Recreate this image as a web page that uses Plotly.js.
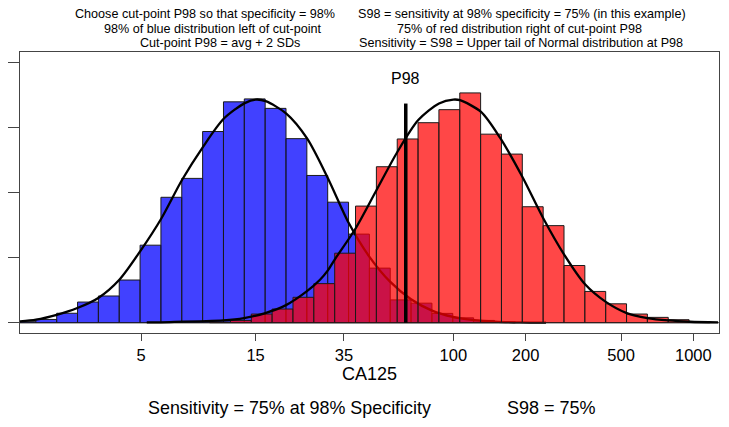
<!DOCTYPE html>
<html>
<head>
<meta charset="utf-8">
<script src="https://cdn.plot.ly/plotly-3.0.1.min.js"></script>
<style>
  html, body { margin: 0; padding: 0; background: #ffffff; }
  #chart { width: 729px; height: 427px; }
</style>
</head>
<body>
<div id="chart"></div>
<script>
// ---- data (x in natural-log units of CA125) ----
const binWidth = 0.2;

const blueBinStart = [0.4, 0.6, 0.8, 1.0, 1.2, 1.4, 1.6, 1.8, 2.0, 2.2, 2.4, 2.6,
                      2.8, 3.0, 3.2, 3.4, 3.6, 3.8, 4.0, 4.2, 4.4, 4.6, 4.8, 5.0];
const blueHeights  = [0.0015, 0.005, 0.0145, 0.0317, 0.041, 0.0655, 0.119, 0.1925, 0.2215, 0.2935, 0.339, 0.3435,
                      0.329, 0.2825, 0.226, 0.185, 0.136, 0.0838, 0.035, 0.030, 0.0143, 0.0075, 0.0035, 0.0015];

const redBinStart = [2.267, 2.467, 2.667, 2.867, 3.067, 3.267, 3.467, 3.667, 3.867, 4.067, 4.267, 4.467,
                     4.667, 4.867, 5.067, 5.267, 5.467, 5.667, 5.867, 6.067, 6.267, 6.467, 6.667, 6.867];
const redHeights  = [0.001, 0.0035, 0.0133, 0.021, 0.039, 0.060, 0.1067, 0.179, 0.2394, 0.282, 0.307, 0.327,
                     0.3527, 0.2894, 0.2588, 0.178, 0.149, 0.0878, 0.048, 0.029, 0.0133, 0.0082, 0.0046, 0.0015];

const blueCurveX = [0.448, 0.602, 0.800, 0.998, 1.199, 1.401, 1.602, 1.804, 2.002, 2.204, 2.402, 2.604, 2.709,
                    2.805, 3.003, 3.202, 3.403, 3.602, 3.799, 3.998, 4.199, 4.401, 4.602, 4.804, 5.005, 5.245, 5.494];
const blueCurveY = [0.002, 0.0046, 0.012, 0.0225, 0.038, 0.066, 0.110, 0.160, 0.219, 0.270, 0.313, 0.337, 0.3425,
                    0.340, 0.321, 0.283, 0.2215, 0.153, 0.1015, 0.063, 0.036, 0.0185, 0.0088, 0.0038, 0.0016, 0.0005, 0.0001];

const redCurveX = [1.664, 1.887, 2.399, 2.597, 2.802, 3.000, 3.198, 3.326, 3.400, 3.467, 3.669, 3.870, 4.068,
                   4.269, 4.468, 4.605, 4.669, 4.871, 5.053, 5.267, 5.469, 5.667, 5.869, 6.068, 6.269, 6.467, 6.668, 6.876, 7.145];
const redCurveY = [0.0005, 0.001, 0.0035, 0.007, 0.0148, 0.027, 0.048, 0.066, 0.080, 0.097, 0.145, 0.204, 0.262,
                   0.311, 0.3365, 0.3425, 0.3415, 0.3236, 0.284, 0.224, 0.160, 0.105, 0.059, 0.032, 0.0148, 0.0072, 0.0035, 0.0015, 0.0005];

const p98 = 4.149;        // cut-point (ln CA125)
const p98Top = 0.3364;

const tickLabels = [5, 15, 35, 100, 200, 500, 1000];
const yTicks = [0, 0.1, 0.2, 0.3, 0.4];

const topLeft = ["Choose cut-point P98 so that specificity = 98%",
                 "98% of blue distribution left of cut-point",
                 "Cut-point P98 = avg + 2 SDs"];
const topRight = ["S98 = sensitivity at 98% specificity = 75% (in this example)",
                  "75% of red distribution right of cut-point P98",
                  "Sensitivity = S98 = Upper tail of Normal distribution at P98"];
const bottomLeft = "Sensitivity = 75% at 98% Specificity";
const bottomRight = "S98 = 75%";

// ---- layout helpers ----
const W = 729, H = 427;
const M = {l: 20, r: 10, t: 52, b: 94};
const PW = W - M.l - M.r, PH = H - M.t - M.b;
const px = v => (v - M.l) / PW;
const py = v => (H - M.b - v) / PH;
const FONT = 'Liberation Sans, Arial, Helvetica, sans-serif';
const xRange = [0.448, 7.154];
const yRange = [-0.0158, 0.4155];

const traces = [
  {
    type: 'bar', x: blueBinStart, y: blueHeights, width: binWidth, offset: 0,
    marker: {color: 'rgba(0,0,255,0.745)', line: {color: '#1a1a1a', width: 1}},
    xaxis: 'x', yaxis: 'y', hoverinfo: 'skip'
  },
  {
    type: 'scatter', mode: 'lines', x: blueCurveX, y: blueCurveY,
    line: {color: '#000', width: 2.3, shape: 'spline', smoothing: 0.8},
    xaxis: 'x', yaxis: 'y', hoverinfo: 'skip'
  },
  {
    type: 'bar', x: redBinStart, y: redHeights, width: binWidth, offset: 0,
    marker: {color: 'rgba(255,0,0,0.72)', line: {color: '#1a1a1a', width: 1}},
    xaxis: 'x2', yaxis: 'y2', hoverinfo: 'skip'
  },
  {
    type: 'scatter', mode: 'lines', x: redCurveX, y: redCurveY,
    line: {color: '#000', width: 2.3, shape: 'spline', smoothing: 0.8},
    xaxis: 'x2', yaxis: 'y2', hoverinfo: 'skip'
  },
  {
    type: 'scatter', mode: 'lines', x: [p98, p98], y: [0, p98Top],
    line: {color: '#000', width: 3.5},
    xaxis: 'x2', yaxis: 'y2', hoverinfo: 'skip'
  }
];

const annotations = [];
const leftC = [[205, 14], [212.8, 28.8], [219.5, 43.4]];
const rightC = [[521.8, 14], [519.8, 28.8], [520.6, 43.4]];
topLeft.forEach((t, i) => annotations.push({text: t, xref: 'paper', yref: 'paper',
  x: px(leftC[i][0]), y: py(leftC[i][1]), xanchor: 'center', yanchor: 'middle',
  showarrow: false, font: {family: FONT, size: 12.6, color: '#000'}}));
topRight.forEach((t, i) => annotations.push({text: t, xref: 'paper', yref: 'paper',
  x: px(rightC[i][0]), y: py(rightC[i][1]), xanchor: 'center', yanchor: 'middle',
  showarrow: false, font: {family: FONT, size: 12.6, color: '#000'}}));
annotations.push({text: bottomLeft, xref: 'paper', yref: 'paper', x: px(289.5), y: py(408),
  xanchor: 'center', yanchor: 'middle', showarrow: false, font: {family: FONT, size: 17.9, color: '#000'}});
annotations.push({text: bottomRight, xref: 'paper', yref: 'paper', x: px(551.3), y: py(408),
  xanchor: 'center', yanchor: 'middle', showarrow: false, font: {family: FONT, size: 18, color: '#000'}});
annotations.push({text: 'P98', xref: 'x', yref: 'paper', x: p98, y: py(78),
  xanchor: 'center', yanchor: 'middle', showarrow: false, font: {family: FONT, size: 16, color: '#000'}});

const layout = {
  width: W, height: H,
  margin: M,
  paper_bgcolor: '#fff', plot_bgcolor: '#fff',
  showlegend: false,
  barmode: 'overlay',
  font: {family: FONT, color: '#000'},
  xaxis: {
    range: xRange, showgrid: false, zeroline: false,
    showline: true, mirror: true, linecolor: '#444', linewidth: 1,
    tickmode: 'array', tickvals: tickLabels.map(Math.log), ticktext: tickLabels.map(String),
    ticks: 'outside', ticklen: 7, tickcolor: '#444', tickwidth: 1,
    tickfont: {family: FONT, size: 16.5, color: '#000'},
    title: {text: 'CA125', font: {family: FONT, size: 18, color: '#000'}, standoff: 3}
  },
  yaxis: {
    range: yRange, showgrid: false, zeroline: false,
    showline: true, mirror: true, linecolor: '#444', linewidth: 1,
    tickmode: 'array', tickvals: yTicks, showticklabels: false,
    ticks: 'outside', ticklen: 11, tickcolor: '#444', tickwidth: 1
  },
  xaxis2: {overlaying: 'x', range: xRange, visible: false},
  yaxis2: {overlaying: 'y', range: yRange, visible: false},
  shapes: [
    {type: 'line', xref: 'paper', yref: 'y', x0: 0, x1: 1, y0: 0, y1: 0,
     layer: 'below', line: {color: '#333', width: 1}}
  ],
  annotations: annotations
};

Plotly.newPlot('chart', traces, layout, {displayModeBar: false, staticPlot: true});
</script>
</body>
</html>
